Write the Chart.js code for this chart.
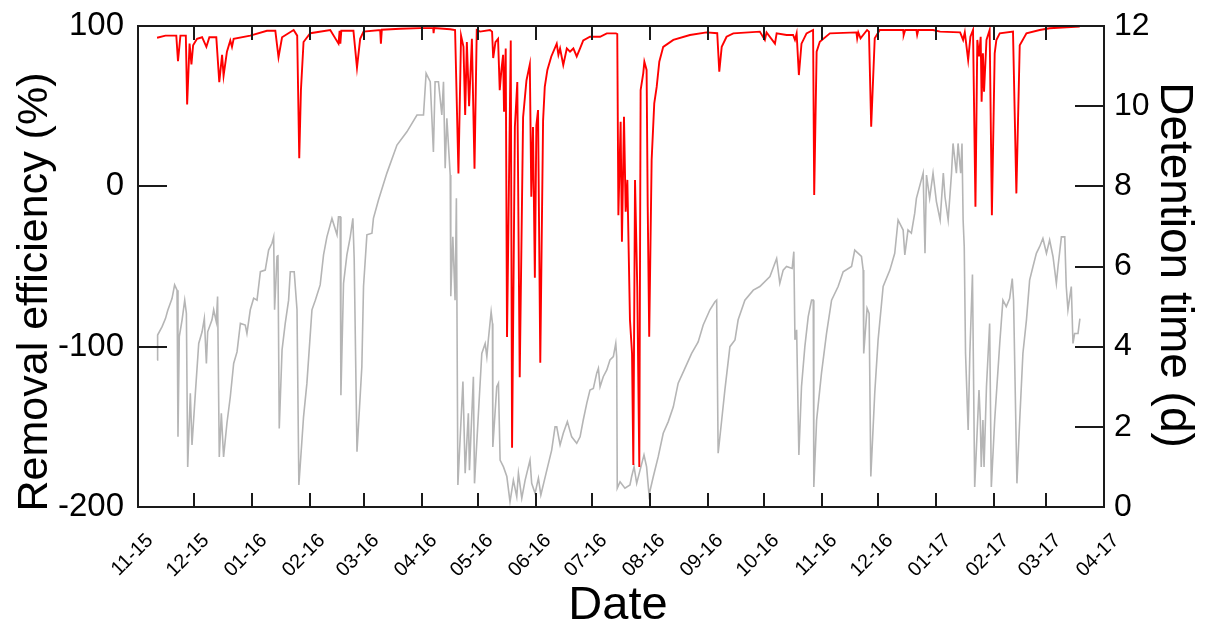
<!DOCTYPE html>
<html>
<head>
<meta charset="utf-8">
<script src="https://cdn.jsdelivr.net/npm/chart.js@4.4.0/dist/chart.umd.min.js"></script>
<style>
html,body{margin:0;padding:0;background:#fff;}
#wrap{width:1208px;height:630px;}
</style>
</head>
<body>
<div id="wrap"><canvas id="c" width="1208" height="630"></canvas></div>
<script>
// x axis: days since 2015-11-01
const monthTickDays = [0,30,61,92,121,152,182,213,243,274,305,335,366,396,427,458,486,517];
const monthTickLabels = ["11-15","12-15","01-16","02-16","03-16","04-16","05-16","06-16","07-16","08-16","09-16","10-16","11-16","12-16","01-17","02-17","03-17","04-17"];
const effTicks = [-200,-100,0,100];
const detTicks = [0,2,4,6,8,10,12];

// Removal efficiency (%)
const effDays = [10.2,14.7,20.5,21.4,22.7,25.6,26.3,27.6,28.6,29.5,31.6,34.3,36.6,38.2,41.9,43.5,45.0,45.8,47.6,49.4,50.3,51.2,60.1,69.0,73.5,75.2,77.1,83.3,85.2,86.3,87.2,88.6,92.2,102.9,107.3,107.9,108.3,108.8,115.3,117.2,118.9,120.7,129.6,130.0,130.5,140.3,151.0,158.0,158.2,158.5,167.1,169.7,171.5,172.9,174.2,175.1,176.0,177.2,178.7,180.1,181.3,183.1,188.4,189.5,190.1,191.3,192.7,193.6,194.5,195.4,195.9,196.8,197.5,199.5,200.2,201.7,203.0,204.3,206.1,207.9,209.7,210.5,211.4,212.4,213.2,214.1,215.3,216.8,217.7,219.1,221.2,224.1,225.0,225.9,227.6,229.5,231.2,233.0,234.8,236.6,238.3,241.9,247.3,250.9,255.8,256.5,257.1,258.3,259.0,260.1,261.0,261.9,263.3,264.4,265.1,266.0,267.2,268.3,269.0,270.4,271.0,272.2,272.8,273.6,274.9,276.3,277.6,279.0,281.1,286.5,295.4,304.3,310.0,311.1,312.4,315.0,318.6,332.8,335.5,336.4,340.9,341.8,347.1,350.6,351.6,352.5,353.7,355.1,357.8,361.3,361.9,363.2,364.9,370.3,384.5,384.9,385.5,386.7,390.2,391.2,392.4,394.3,397.0,409.5,409.8,410.6,416.6,417.0,417.6,425.5,429.3,440.0,441.6,442.5,444.3,445.5,446.9,448.2,449.2,450.1,451.0,451.5,452.2,452.8,454.1,455.8,457.0,458.5,459.4,461.2,468.3,470.1,471.9,475.5,482.6,487.9,504.0];
const effValues = [92.7,94,94,78,94,94,51,89,76,88,92,93,87,93,93,65,82,69,84,91,87,92,94,97,97,80.5,93,97.5,94,17.5,60,90,95.5,97.5,89,97,89,97,97,74,92,96.5,97.5,89,97.7,98.3,98.7,98.7,95.5,98.7,98,97.5,8,94,87,44.5,90,50,92,11,97.5,96.5,97.5,96.5,80,90,92,60,72.6,82,46.5,86,-94,91,-163,37,65,-119,43,66,76,-6.5,37,-57,38,47.6,-110,41,62,72.6,81,89,82,86,75.7,86,84,86,81,86,91,93.3,93.3,95.4,95.4,95,-18,40.3,-34.5,43.4,-15.8,4,-83.4,-104,-173.8,4,-62.6,-175,60,70.5,77.7,72.6,-12.7,-93.8,16.4,51.8,62,77.7,87,91.3,94.4,96,95.5,71.5,87,93.3,95.4,96.5,91.3,96,89,95.4,94.4,94.4,91.3,95.4,69.4,89,95.4,97.5,-5.4,84,90.2,95.4,96,92.3,96,92.3,97.5,96.5,37.2,92.3,97.5,97.5,94.4,97.5,97.5,94.4,97.5,97.5,96.5,96,91.3,96,78.8,93.3,97.5,-12.7,91.3,81,93.3,52.8,83,59,91.3,97.5,-18,83,91.3,95.4,96.5,-4.4,88,95.4,97.5,98.6,99.7];

// Detention time (d)
const detDays = [10.2,10.5,12.9,14.7,15.9,18.2,19.6,20.9,21.4,22.1,23.6,25.0,25.9,26.6,28.0,28.9,30.7,32.5,34.3,35.5,36.6,37.3,39.6,40.5,41.9,42.6,43.5,44.6,45.8,47.6,49.4,51.2,53.0,54.8,57.4,58.3,60.1,61.9,63.7,65.5,68.1,69.9,71.7,72.6,73.1,74.4,74.9,75.6,77.1,78.8,80.6,81.5,83.6,85.1,86.1,88.6,90.4,93.1,94.9,97.5,99.3,101.1,103.8,106.5,107.3,108.2,108.6,110.0,111.8,113.6,115.0,115.7,117.2,119.8,120.7,122.5,125.2,126.0,128.7,133.2,138.6,143.9,149.3,152.8,154.2,156.4,158.1,159.0,160.8,162.6,163.5,164.4,165.3,167.1,167.4,168.5,169.7,170.4,171.2,173.9,175.1,176.8,177.4,179.5,180.1,182.2,184.0,185.8,186.7,187.5,189.0,189.7,189.9,192.0,192.9,193.8,195.6,197.4,199.1,200.9,202.7,203.6,205.4,207.2,209.8,210.7,212.5,214.3,215.6,218.8,221.4,223.2,224.1,225.9,227.6,229.8,232.1,234.8,236.6,238.3,240.2,241.9,243.7,245.5,246.4,247.3,249.0,250.9,252.6,254.4,255.7,256.2,256.5,258.0,260.6,263.3,264.2,265.5,266.9,268.7,270.8,272.2,273.5,275.8,278.4,281.1,283.8,286.5,289.1,292.7,296.3,299.8,302.5,306.1,308.8,309.7,310.5,312.4,314.1,316.8,319.5,321.2,324.8,329.3,332.8,338.2,341.8,343.5,345.3,347.1,350.1,351.0,351.6,352.5,353.7,355.1,356.9,358.7,360.5,361.4,361.7,363.2,365.8,368.5,371.2,374.7,377.4,381.9,383.6,387.2,388.1,388.4,390.2,391.3,392.2,394.3,396.1,398.8,402.4,405.0,406.8,409.5,410.4,412.1,413.9,415.7,416.6,420.2,421.2,422.0,423.7,425.5,427.3,429.3,431.0,431.9,433.6,435.4,436.2,438.0,438.9,440.3,441.0,441.6,442.2,442.9,444.3,445.2,446.6,447.8,450.1,450.8,451.3,452.2,452.8,454.1,455.8,456.7,458.5,461.2,462.9,464.7,466.5,467.9,468.6,470.4,471.9,473.6,475.5,477.2,479.0,480.8,482.6,484.3,486.2,487.9,489.7,491.5,492.4,494.2,496.0,496.8,497.7,499.5,500.4,501.3,503.1,504.1];
const detValues = [3.67,4.29,4.5,4.7,4.9,5.2,5.54,5.41,1.75,4.25,4.67,5.16,4.83,1.0,2.84,1.55,2.84,4.08,4.37,4.7,3.58,4.37,4.67,4.92,4.62,5.25,1.25,2.34,1.25,2.09,2.75,3.58,3.87,4.58,4.54,4.33,4.92,5.21,5.16,5.87,5.91,6.41,6.58,6.74,4.92,6.25,6.29,1.96,3.92,4.58,5.16,5.87,5.87,4.92,0.55,2.25,3.09,4.92,5.16,5.54,6.29,6.74,7.2,6.79,7.24,7.24,2.79,5.58,6.29,6.74,7.2,6.2,1.38,3.5,5.5,6.79,6.83,7.2,7.66,8.33,9.03,9.36,9.78,9.78,10.82,10.61,8.86,10.61,10.61,9.78,10.61,8.45,9.7,8.28,5.26,6.74,5.16,7.7,0.55,3.13,0.84,2.34,0.92,3.25,0.59,2.34,3.83,4.08,3.75,4.17,4.87,4.58,1.5,3.0,3.09,1.17,1.0,0.76,0.13,0.67,0.26,0.84,0.22,0.67,1.17,0.59,0.34,0.72,0.3,0.92,1.42,2.0,2.0,1.55,1.84,2.13,1.75,1.59,1.75,2.17,2.59,2.92,2.96,3.34,3.46,3.0,3.25,3.42,3.67,3.75,4.08,3.75,0.47,0.63,0.47,0.55,0.76,1.0,0.59,0.92,1.3,1.0,0.3,0.76,1.25,1.84,2.13,2.5,3.09,3.46,3.83,4.12,4.54,4.92,5.12,5.16,1.34,2.17,2.92,4.0,4.17,4.67,5.16,5.41,5.5,5.75,6.2,5.58,5.91,6.0,5.95,6.37,4.17,4.42,1.3,3.0,4.0,4.75,5.16,5.16,0.5,2.17,3.34,4.33,5.16,5.5,5.87,6.0,6.41,6.25,5.91,3.83,4.96,4.83,0.76,2.84,4.17,5.5,5.91,6.33,7.16,6.91,6.29,6.91,6.83,7.33,7.7,8.33,6.33,8.28,7.7,8.33,7.62,7.16,8.33,7.74,7.16,8.33,9.07,8.33,9.07,8.33,9.07,7.16,6.5,3.83,1.92,3.83,5.8,0.5,2.92,2.17,1.0,2.17,1.0,3.0,4.58,0.5,2.17,4.08,5.16,5.0,5.2,5.7,5.16,0.59,2.17,3.83,4.67,5.66,6.0,6.33,6.5,6.7,6.33,6.66,6.25,5.58,6.0,6.74,6.74,5.5,4.92,5.5,4.08,4.33,4.33,4.7];

const FONT = "'Liberation Sans', Arial, sans-serif";

const frameTicks = {
  id: 'frameTicks',
  afterDatasetsDraw(chart) {
    const {ctx, chartArea: {left, right, top, bottom}, scales} = chart;
    ctx.save();
    ctx.strokeStyle = '#1a1a1a';
    ctx.lineWidth = 2;
    ctx.beginPath();
    monthTickDays.forEach(d => {
      const px = Math.round(scales.x.getPixelForValue(d));
      ctx.moveTo(px, bottom); ctx.lineTo(px, bottom - 14);
      ctx.moveTo(px, top); ctx.lineTo(px, top + 14);
    });
    effTicks.forEach(v => {
      const py = Math.round(scales.yL.getPixelForValue(v));
      ctx.moveTo(left, py); ctx.lineTo(left + 29, py);
    });
    detTicks.forEach(v => {
      const py = Math.round(scales.yR.getPixelForValue(v));
      ctx.moveTo(right, py); ctx.lineTo(right - 29, py);
    });
    ctx.stroke();
    ctx.strokeRect(left, top, right - left, bottom - top);
    ctx.restore();
  },
  afterDraw(chart) {
    const ctx = chart.ctx;
    ctx.save();
    ctx.fillStyle = '#000';
    ctx.textAlign = 'center';
    ctx.textBaseline = 'middle';
    ctx.font = `43px ${FONT}`;
    ctx.save(); ctx.translate(35, 292); ctx.rotate(-Math.PI / 2);
    ctx.fillText('Removal efficiency (%)', 0, 0); ctx.restore();
    ctx.font = `46px ${FONT}`;
    ctx.save(); ctx.translate(1174, 265); ctx.rotate(Math.PI / 2);
    ctx.fillText('Detention time (d)', 0, 0); ctx.restore();
    ctx.font = `47px ${FONT}`;
    ctx.fillText('Date', 618, 606);
    ctx.restore();
  }
};

const noPad = s => { s.paddingTop = 0; s.paddingBottom = 0; s.paddingLeft = 0; s.paddingRight = 0; };

new Chart(document.getElementById('c'), {
  type: 'line',
  data: {
    datasets: [
      {
        label: 'Removal efficiency',
        data: effDays.map((d, i) => ({x: d, y: effValues[i]})),
        yAxisID: 'yL',
        borderColor: '#ff0000',
        borderWidth: 1.9,
        pointRadius: 0,
        tension: 0,
        fill: false
      },
      {
        label: 'Detention time',
        data: detDays.map((d, i) => ({x: d, y: detValues[i]})),
        yAxisID: 'yR',
        borderColor: '#b5b5b5',
        borderWidth: 1.6,
        pointRadius: 0,
        tension: 0,
        fill: false
      }
    ]
  },
  options: {
    responsive: false,
    animation: false,
    devicePixelRatio: 1,
    layout: {padding: {top: 26, left: 0, right: 0, bottom: 0}},
    plugins: {legend: {display: false}, tooltip: {enabled: false}},
    scales: {
      x: {
        type: 'linear',
        min: 0, max: 517,
        afterBuildTicks: s => { s.ticks = monthTickDays.map(v => ({value: v})); },
        afterFit: s => { s.height = 123; noPad(s); },
        grid: {display: false, drawTicks: false},
        border: {display: false},
        ticks: {
          autoSkip: false, minRotation: 45, maxRotation: 45,
          padding: 22, labelOffset: 12,
          color: '#000',
          font: {family: FONT, size: 20},
          callback: v => monthTickLabels[monthTickDays.indexOf(v)]
        }
      },
      yL: {
        type: 'linear', position: 'left',
        min: -200, max: 100,
        afterBuildTicks: s => { s.ticks = effTicks.map(v => ({value: v})); },
        afterFit: s => { s.width = 138; noPad(s); },
        grid: {display: false, drawTicks: false},
        border: {display: false},
        ticks: {padding: 14, color: '#000', font: {family: FONT, size: 33}}
      },
      yR: {
        type: 'linear', position: 'right',
        min: 0, max: 12,
        afterBuildTicks: s => { s.ticks = detTicks.map(v => ({value: v})); },
        afterFit: s => { s.width = 104; noPad(s); },
        grid: {display: false, drawTicks: false},
        border: {display: false},
        ticks: {padding: 10, color: '#000', font: {family: FONT, size: 32}}
      }
    }
  },
  plugins: [frameTicks]
});
</script>
</body>
</html>
